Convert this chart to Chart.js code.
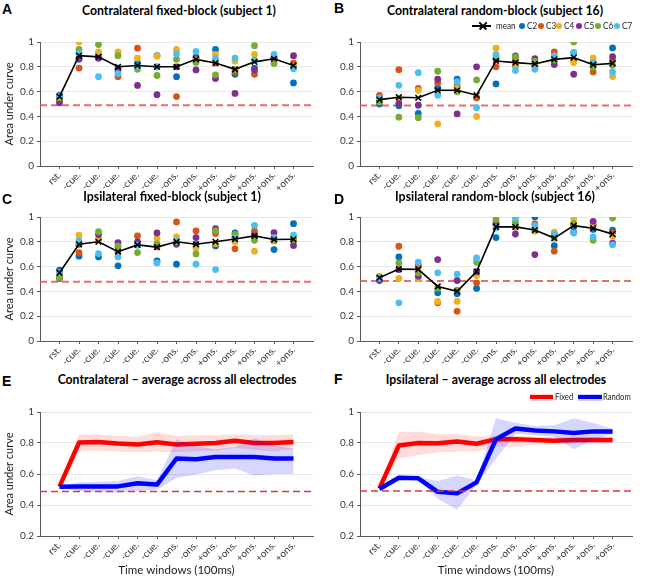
<!DOCTYPE html>
<html><head><meta charset="utf-8">
<script src="https://cdn.jsdelivr.net/npm/chart.js@4.4.1/dist/chart.umd.min.js"></script>
<style>
body{margin:0;width:667px;height:577px;position:relative;background:#fff;overflow:hidden;font-family:Lato,'Noto Sans',sans-serif;}
canvas{position:absolute;}
.ttl{position:absolute;font-weight:bold;font-size:13px;color:#000;white-space:nowrap;transform-origin:center center;line-height:16px;}
.let{position:absolute;font:bold 14px 'Liberation Sans',Arial,sans-serif;line-height:16px;}
.lg{position:absolute;font-size:9px;color:#222;white-space:nowrap;line-height:12px;}
.mk{position:absolute;}
</style>
</head><body>
<script>
// ---------------- DATA ----------------
const xLabels = ['rst.','-cue.','-cue.','-cue.','-cue.','-cue.','-ons.','-ons.','+ons.','+ons.','+ons.','+ons.','+ons.'];
const electrodeNames = ['C2','C3','C4','C5','C6','C7'];
const electrodeColors = ['#0072BD','#D95319','#EDB120','#7E2F8E','#77AC30','#4DBEEE'];

// A: Contralateral fixed-block (subject 1)
const A_mean = [0.56,0.89,0.88,0.80,0.81,0.80,0.80,0.86,0.83,0.78,0.84,0.865,0.81];
const A_C2 = [0.57,0.86,0.87,0.79,0.83,0.89,0.72,0.88,0.94,0.74,0.79,0.87,0.67];
const A_C3 = [0.53,0.79,0.90,0.72,0.95,0.80,0.56,0.86,0.83,0.76,0.74,0.87,0.83];
const A_C4 = [0.54,1.00,0.92,0.92,0.87,0.885,0.94,0.85,0.90,0.845,0.90,0.87,0.80];
const A_C5 = [0.51,0.87,0.87,0.77,0.65,0.575,0.80,0.775,0.705,0.585,0.775,0.865,0.89];
const A_C6 = [0.55,0.94,0.98,0.89,0.78,0.73,0.86,0.835,0.735,0.78,0.97,0.826,0.80];
const A_C7 = [0.56,0.91,0.72,0.745,0.80,0.80,0.905,0.925,0.866,0.87,0.853,0.90,0.785];

// B: Contralateral random-block (subject 16)
const B_mean = [0.535,0.555,0.55,0.611,0.611,0.571,0.847,0.834,0.823,0.86,0.874,0.817,0.828];
const B_C2 = [0.50,0.485,0.424,0.63,0.70,0.55,0.662,0.81,0.81,0.87,0.914,0.84,0.952];
const B_C3 = [0.57,0.777,0.625,0.67,0.646,0.55,0.80,0.845,0.80,0.92,0.853,0.759,0.85];
const B_C4 = [0.54,0.544,0.61,0.34,0.625,0.40,0.95,0.818,0.83,0.887,0.834,0.871,0.721];
const B_C5 = [0.53,0.504,0.49,0.70,0.42,0.80,0.86,0.887,0.866,0.818,0.74,0.82,0.882];
const B_C6 = [0.517,0.394,0.39,0.764,0.598,0.694,0.88,0.88,0.845,0.855,1.0,0.796,0.812];
const B_C7 = [0.55,0.651,0.753,0.571,0.68,0.47,0.898,0.77,0.78,0.885,0.914,0.834,0.759];

// C: Ipsilateral fixed-block (subject 1)
const C_mean = [0.55,0.78,0.80,0.72,0.775,0.757,0.80,0.78,0.80,0.822,0.848,0.818,0.82];
const C_C2 = [0.571,0.684,0.678,0.606,0.78,0.646,0.619,0.78,0.767,0.871,0.85,0.737,0.946];
const C_C3 = [0.52,0.713,0.818,0.72,0.847,0.759,0.96,0.887,0.866,0.743,0.887,0.807,0.81];
const C_C4 = [0.53,0.853,0.82,0.76,0.78,0.828,0.839,0.753,0.786,0.80,0.724,0.81,0.83];
const C_C5 = [0.504,0.78,0.858,0.794,0.80,0.871,0.78,0.834,0.906,0.83,0.847,0.874,0.77];
const C_C6 = [0.51,0.786,0.882,0.764,0.713,0.783,0.80,0.702,0.887,0.86,0.812,0.82,0.818];
const C_C7 = [0.552,0.807,0.705,0.678,0.772,0.63,0.807,0.619,0.576,0.83,0.933,0.834,0.853];

// D: Ipsilateral random-block (subject 16)
const D_mean = [0.51,0.58,0.578,0.44,0.40,0.56,0.92,0.92,0.895,0.83,0.93,0.91,0.862];
const D_C2 = [0.51,0.678,0.61,0.389,0.381,0.424,0.834,0.92,1.0,0.769,0.93,0.90,0.893];
const D_C3 = [0.50,0.764,0.60,0.308,0.239,0.469,0.95,0.93,0.944,0.724,0.94,0.938,0.871];
const D_C4 = [0.52,0.504,0.504,0.319,0.319,0.528,0.93,0.92,0.885,0.877,0.987,0.94,0.845];
const D_C5 = [0.488,0.576,0.523,0.657,0.488,0.56,0.946,0.863,0.697,0.86,0.877,0.965,0.79];
const D_C6 = [0.515,0.63,0.55,0.426,0.41,0.635,0.979,0.96,0.90,0.831,0.946,0.812,0.992];
const D_C7 = [0.507,0.308,0.635,0.55,0.54,0.67,0.912,0.992,0.93,0.861,0.871,0.839,0.777];

// E: Contralateral - average across all electrodes
const E_fixed   = [0.518,0.803,0.807,0.797,0.79,0.805,0.79,0.795,0.80,0.815,0.80,0.80,0.807];
const E_fixedHi = [0.525,0.855,0.855,0.845,0.84,0.87,0.845,0.85,0.85,0.855,0.85,0.85,0.855];
const E_fixedLo = [0.51,0.75,0.75,0.745,0.74,0.745,0.74,0.745,0.75,0.77,0.755,0.745,0.76];
const E_random   = [0.518,0.52,0.52,0.52,0.54,0.532,0.70,0.695,0.71,0.71,0.71,0.70,0.70];
const E_randomHi = [0.525,0.545,0.55,0.555,0.585,0.56,0.825,0.78,0.76,0.775,0.83,0.785,0.765];
const E_randomLo = [0.51,0.49,0.485,0.48,0.49,0.50,0.575,0.597,0.625,0.635,0.59,0.60,0.60];

// F: Ipsilateral - average across all electrodes
const F_fixed   = [0.507,0.784,0.80,0.799,0.81,0.795,0.825,0.825,0.82,0.814,0.82,0.82,0.82];
const F_fixedHi = [0.515,0.868,0.875,0.857,0.857,0.842,0.845,0.845,0.84,0.84,0.84,0.84,0.84];
const F_fixedLo = [0.50,0.70,0.723,0.738,0.745,0.745,0.777,0.775,0.79,0.79,0.795,0.795,0.795];
const F_random   = [0.503,0.576,0.572,0.485,0.475,0.546,0.825,0.894,0.881,0.875,0.864,0.875,0.875];
const F_randomHi = [0.51,0.582,0.578,0.555,0.59,0.56,0.96,0.93,0.91,0.915,0.96,0.93,0.89];
const F_randomLo = [0.50,0.57,0.565,0.44,0.37,0.53,0.70,0.86,0.85,0.84,0.76,0.82,0.86];

// chance levels (dashed lines)
const chanceLevels = {A:0.49, B:0.487, C:0.478, D:0.483, E:0.487, F:0.49};

// ---------------- LAYOUT ----------------
const X_MIN = -1, X_MAX = 13;
const AX = '#5a5a5a', GRID = '#e8e8e8', TICK = '#3a3a3a';
Chart.defaults.font.family = "Lato, 'Noto Sans', sans-serif";
Chart.defaults.font.size = 10;

const COL = {
  left:  {x:0,   w:333, plotL:40,  plotR:313},
  right: {x:334, w:333, plotL:360, plotR:632}
};
const ROW = [
  {top:30,  h:166, plotT:42,  plotB:166},
  {top:205, h:166, plotT:217, plotB:341},
  {top:400, h:177, plotT:412, plotB:536}
];

function pts(arr){ return arr.map((v,i)=>({x:i, y:v})); }
function hline(v){ return [{x:X_MIN, y:v}, {x:X_MAX, y:v}]; }

function axes(yMin, yW, xH, yTitle, xTitle){
  return {
    x:{type:'linear', min:X_MIN, max:X_MAX,
      afterBuildTicks:s=>{ s.ticks = xLabels.map((_,i)=>({value:i})); },
      afterFit:s=>{ s.height = xH; },
      ticks:{autoSkip:false, minRotation:45, maxRotation:45, padding:0, color:TICK, font:{size:10},
             callback:v=>xLabels[v]},
      grid:{drawOnChartArea:false, tickLength:3, color:AX, tickColor:AX},
      border:{color:AX, width:1},
      title:{display:!!xTitle, text:xTitle||'', color:'#1a1a1a', font:{size:11.5}, padding:{top:0,bottom:0}}
    },
    y:{min:yMin, max:1,
      afterFit:s=>{ s.width = yW; },
      ticks:{stepSize:0.2, color:TICK, font:{size:10}, padding:3,
             callback:v=>String(Math.round(v*10)/10)},
      grid:{color:GRID, tickLength:3, tickColor:AX},
      border:{color:AX, width:1},
      title:{display:!!yTitle, text:yTitle||'', color:'#1a1a1a', font:{size:11}, padding:{top:3,bottom:0}}
    }
  };
}

function makeChart(col, row, datasets, yMin, yTitle, xTitle){
  const c = document.createElement('canvas');
  c.width = col.w; c.height = row.h;
  c.style.left = col.x + 'px'; c.style.top = row.top + 'px';
  document.body.appendChild(c);
  return new Chart(c, {
    type:'line',
    data:{datasets},
    options:{
      responsive:false, animation:false, events:[],
      layout:{padding:{top:row.plotT-row.top, left:0, right:col.x+col.w-col.plotR, bottom:0}},
      plugins:{legend:{display:false}, tooltip:{enabled:false}},
      scales:axes(yMin, col.plotL-col.x, row.top+row.h-row.plotB, yTitle, xTitle)
    }
  });
}

function scatterSets(series, mean, chance){
  const ds = [{data:hline(chance), borderColor:'rgba(226,72,72,0.8)', borderWidth:2, borderDash:[7,4],
               pointRadius:0, fill:false, order:20}];
  series.forEach((s,k)=>ds.push({data:pts(s), showLine:false, pointRadius:3.4,
      pointBackgroundColor:electrodeColors[k], pointBorderColor:'rgba(0,0,0,0)', pointBorderWidth:0,
      borderColor:'rgba(0,0,0,0)', fill:false, order:10-k}));
  ds.push({data:pts(mean), borderColor:'#000', borderWidth:1.6, tension:0, fill:false,
      pointStyle:'crossRot', pointRadius:4, pointBorderColor:'#000', pointBorderWidth:1.5,
      pointBackgroundColor:'#000', order:1});
  return ds;
}

function avgSets(fx, fxHi, fxLo, rd, rdHi, rdLo, chance){
  const none = 'rgba(0,0,0,0)';
  return [
    {data:pts(fxHi), fill:'+1', backgroundColor:'rgba(255,0,0,0.14)', borderColor:none, borderWidth:0, pointRadius:0, order:9},
    {data:pts(fxLo), fill:false, borderColor:none, borderWidth:0, pointRadius:0, order:9},
    {data:pts(fx), fill:false, borderColor:'#ff0000', borderWidth:4.5, borderJoinStyle:'round', pointRadius:0, order:7},
    {data:pts(rdHi), fill:'+1', backgroundColor:'rgba(0,0,255,0.16)', borderColor:none, borderWidth:0, pointRadius:0, order:6},
    {data:pts(rdLo), fill:false, borderColor:none, borderWidth:0, pointRadius:0, order:6},
    {data:pts(rd), fill:false, borderColor:'#0000ff', borderWidth:4.5, borderJoinStyle:'round', pointRadius:0, order:5},
    {data:hline(chance), fill:false, borderColor:'#d83a3a', borderWidth:1.5, borderDash:[7,4], pointRadius:0, order:1}
  ];
}

const YT = 'Area under curve', XT = 'Time windows (100ms)';
makeChart(COL.left,  ROW[0], scatterSets([A_C2,A_C3,A_C4,A_C5,A_C6,A_C7], A_mean, chanceLevels.A), 0, YT, null);
makeChart(COL.right, ROW[0], scatterSets([B_C2,B_C3,B_C4,B_C5,B_C6,B_C7], B_mean, chanceLevels.B), 0, null, null);
makeChart(COL.left,  ROW[1], scatterSets([C_C2,C_C3,C_C4,C_C5,C_C6,C_C7], C_mean, chanceLevels.C), 0, YT, null);
makeChart(COL.right, ROW[1], scatterSets([D_C2,D_C3,D_C4,D_C5,D_C6,D_C7], D_mean, chanceLevels.D), 0, null, null);
makeChart(COL.left,  ROW[2], avgSets(E_fixed,E_fixedHi,E_fixedLo,E_random,E_randomHi,E_randomLo, chanceLevels.E), 0.2, YT, XT);
makeChart(COL.right, ROW[2], avgSets(F_fixed,F_fixedHi,F_fixedLo,F_random,F_randomHi,F_randomLo, chanceLevels.F), 0.2, null, XT);

// ---------------- TEXT: titles, letters, legends ----------------
function el(cls, html, css){
  const d = document.createElement('div'); d.className = cls; d.textContent = html;
  Object.assign(d.style, css||{}); document.body.appendChild(d); return d;
}
const titles = [
  ['Contralateral fixed-block (subject 1)', 179, 10, 194],
  ['Contralateral random-block (subject 16)', 495, 10, 216],
  ['Ipsilateral fixed-block (subject 1)', 172, 196, 178],
  ['Ipsilateral random-block (subject 16)', 495, 196, 200],
  ['Contralateral \u2013 average across all electrodes', 177, 379, 239],
  ['Ipsilateral \u2013 average across all electrodes', 496, 379, 221]
];
titles.forEach(([t,cx,cy,w])=>{
  const d = el('ttl', t, {left:cx+'px', top:cy+'px'});
  const k = w / d.offsetWidth;
  d.style.transform = 'translate(-50%,-50%) scaleX(' + k.toFixed(3) + ')';
});
[['A',2,1],['B',334,0],['C',2,191],['D',334,191],['E',2,373],['F',334,371]].forEach(([t,x,y])=>{
  el('let', t, {left:x+'px', top:y+'px'});
});

// legend B
function box(x,y,w,h,bg,extra){ const d=document.createElement('div'); d.className='mk';
  Object.assign(d.style,{left:x+'px',top:y+'px',width:w+'px',height:h+'px',background:bg},extra||{});
  document.body.appendChild(d); return d; }
function fitText(d, w){ const k = w / d.offsetWidth; d.style.transformOrigin='left center'; d.style.transform='scaleX('+k.toFixed(3)+')'; }
const LBy = 26;
box(472, LBy-0.8, 19, 1.6, '#000');
box(478, LBy-0.75, 10, 1.5, '#000', {transform:'rotate(45deg)'});
box(478, LBy-0.75, 10, 1.5, '#000', {transform:'rotate(-45deg)'});
fitText(el('lg', 'mean', {left:'496px', top:(LBy-6)+'px'}), 20);
const legX = [522,541,559,579,598,617];
electrodeNames.forEach((n,k)=>{
  box(legX[k]-3.4, LBy-3.4, 6.8, 6.8, electrodeColors[k], {borderRadius:'50%'});
  fitText(el('lg', n, {left:(legX[k]+4.5)+'px', top:(LBy-6)+'px'}), 10);
});

// legend F
const LFy = 397;
box(530, LFy-3.5, 23, 7, 'rgba(255,0,0,0.16)');
box(530, LFy-2, 23, 4, '#ff0000');
fitText(el('lg', 'Fixed', {left:'555px', top:(LFy-6)+'px'}), 18);
box(578, LFy-3.5, 24, 7, 'rgba(0,0,255,0.18)');
box(578, LFy-2, 24, 4, '#0000ff');
fitText(el('lg', 'Random', {left:'603px', top:(LFy-6)+'px'}), 28);
</script>
</body></html>
